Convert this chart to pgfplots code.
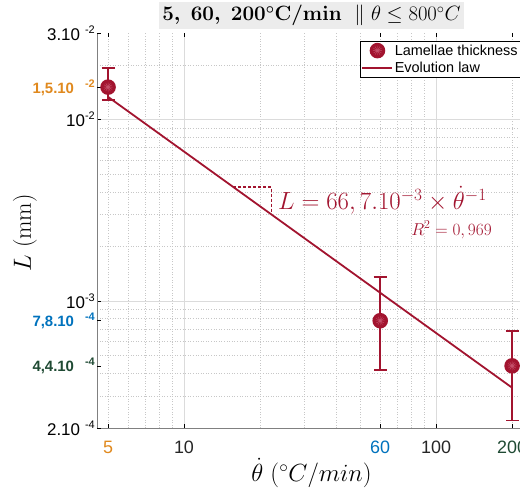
\documentclass[border=0pt]{standalone}
\usepackage{pgfplots}
\pgfplotsset{compat=1.18}
\usepackage{fontspec}
\newfontfamily\arial{Liberation Sans}
\definecolor{crim}{HTML}{A2142F}
\definecolor{crimlight}{HTML}{C5506A}
\definecolor{orng}{HTML}{E0891E}
\definecolor{mblue}{HTML}{0072BD}
\definecolor{dgreen}{HTML}{1F4A33}
\definecolor{titlebg}{HTML}{ECECEC}
\pgfdeclareplotmark{lam}{%
  \pgfpathcircle{\pgfpointorigin}{7.8bp}%
  \pgfsetfillcolor{crim}\pgfusepath{fill}%
  \pgfsetstrokecolor{crimlight}\pgfsetlinewidth{0.4bp}%
  \foreach \a in {0,30,...,330}{\pgfpathmoveto{\pgfpointorigin}\pgfpathlineto{\pgfpointpolar{\a}{4.5bp}}}%
  \pgfusepath{stroke}%
}
% black y tick label: mantissa, exponent
\newcommand{\btl}[2]{\raisebox{-4bp}{\arial\fontsize{17}{17}\selectfont #1\raisebox{7bp}{\fontsize{11}{11}\selectfont -#2}}}
% coloured y tick label
\newcommand{\ctl}[3]{\textcolor{#3}{\arial\bfseries\fontsize{15}{15}\selectfont #1\hspace{11bp}\raisebox{6bp}{\fontsize{11}{11}\selectfont -#2}}}
\begin{document}
\begin{tikzpicture}
\path[use as bounding box] (-97bp,-63bp) rectangle (423bp,428bp);
\begin{axis}[
  scale only axis, width=423bp, height=395bp,
  xmode=log, ymode=log,
  xmin=4.52, xmax=215, ymin=2e-4, ymax=3e-2,
  clip mode=individual,
  axis x line*=bottom, axis y line*=left,
  axis line style={draw=gray, line width=1bp},
  tick align=inside, major tick length=4bp, minor tick length=0bp,
  tick style={black, line width=0.6bp},
  xtick={10,100}, xticklabels={\textcolor{black!85}{10},\textcolor{black!85}{100}},
  extra x ticks={5,60,200},
  extra x tick labels={\textcolor{orng}{5},\textcolor{mblue}{60},\textcolor{dgreen}{200}},
  extra x tick style={grid=none},
  minor xtick={5,6,7,8,9,20,30,40,50,60,70,80,90,200},
  ytick={1e-3,1e-2},
  yticklabels={\btl{10}{3},\btl{10}{2}},
  extra y ticks={2e-4,4.4e-4,7.8e-4,1.5e-2,3e-2},
  extra y tick labels={\btl{2.10\hspace{5bp}}{4},\ctl{4,4.10}{4}{dgreen},\ctl{7,8.10}{4}{mblue},\ctl{1,5.10}{2}{orng},\btl{3.10\hspace{5bp}}{2}},
  extra y tick style={grid=none},
  minor ytick={3e-4,4e-4,5e-4,6e-4,7e-4,8e-4,9e-4,2e-3,3e-3,4e-3,5e-3,6e-3,7e-3,8e-3,9e-3,2e-2},
  grid=both,
  major grid style={draw=black!14, line width=0.6bp},
  minor grid style={draw=black!22, line width=0.6bp, dotted},
  xticklabel style={font=\arial\fontsize{18}{18}\selectfont, anchor=north, inner sep=0pt, yshift=-13bp},
  yticklabel style={anchor=east, inner sep=0pt, xshift=-2bp},
  xlabel={$\dot{\theta}\ (^{\circ}C/min)$},
  xlabel style={at={(rel axis cs:0.507,0)}, anchor=center, yshift=-45bp, font=\fontsize{24}{24}\selectfont},
  ylabel={$L$ (mm)},
  ylabel style={at={(rel axis cs:-0.1702,0.494)}, anchor=center, font=\fontsize{24}{24}\selectfont},
  legend style={at={(1,1)}, anchor=north east, xshift=1bp, yshift=-8bp, draw=black, line width=0.6bp,
    font=\arial\fontsize{14.5}{14.5}\selectfont, inner sep=1.5bp, row sep=2bp, cells={anchor=west},
    nodes={inner sep=1.5bp}},
  legend cell align=left,
]
\addplot[only marks, mark=lam,
  legend image code/.code={\pgfuseplotmark{lam}\path (-15bp,0bp) (15bp,0bp);},
  error bars/.cd, y dir=both, y explicit, error mark=-,
  error bar style={draw=crim, line width=1.8bp},
  error mark options={rotate=90, draw=crim, line width=1.8bp, mark size=6.5bp}]
  coordinates {
  (5,1.51e-2) += (0,0.41e-2) -= (0,0.23e-2)
  (60,7.8e-4) += (0,5.8e-4) -= (0,3.62e-4)
  (200,4.4e-4) += (0,2.42e-4) -= (0,2.2e-4)
  };
\addlegendentry{Lamellae thickness}
\addplot[crim, line width=1.8bp,
  legend image code/.code={\draw[crim, line width=1.8bp] (-15bp,0bp) -- (15bp,0bp);}]
  coordinates {(5,0.01334) (200,3.335e-4)};
\addlegendentry{Evolution law}
\draw[draw=crim, line width=1.2bp, dash pattern=on 3bp off 2bp] (axis cs:15.7,4.25e-3) -- (axis cs:22.3,4.25e-3) -- (axis cs:22.3,2.99e-3);
\node[anchor=west, text=crim, font=\fontsize{26.4}{26.4}\selectfont, inner sep=0pt] at (axis cs:23.6,3.6e-3) {$L = 66,7.10^{-3}\times\dot{\theta}^{-1}$};
\node[anchor=center, text=crim, font=\fontsize{17.5}{17.5}\selectfont, inner sep=0pt] at (axis cs:115,2.47e-3) {$R^2 = 0,969$};
\node[fill=titlebg, inner sep=3bp, font=\fontsize{21}{21}\selectfont] at ([yshift=17.5bp]rel axis cs:0.507,1) {{\boldmath$5,\ 60,\ 200^{\circ}\mathbf{C/min}$}\ \ $\|\ \theta\leq 800^{\circ}C$};
\end{axis}
% top ticks
\begin{axis}[
  scale only axis, width=423bp, height=395bp,
  xmode=log, ymode=log,
  xmin=4.52, xmax=215, ymin=2e-4, ymax=3e-2,
  axis x line*=top, axis y line=none,
  x axis line style={draw=none},
  tick align=inside, major tick length=4bp, minor tick length=0bp,
  tick style={black, line width=0.6bp},
  xtick={5,10,60,100,200}, xticklabels={},
]
\end{axis}
\end{tikzpicture}
\end{document}
